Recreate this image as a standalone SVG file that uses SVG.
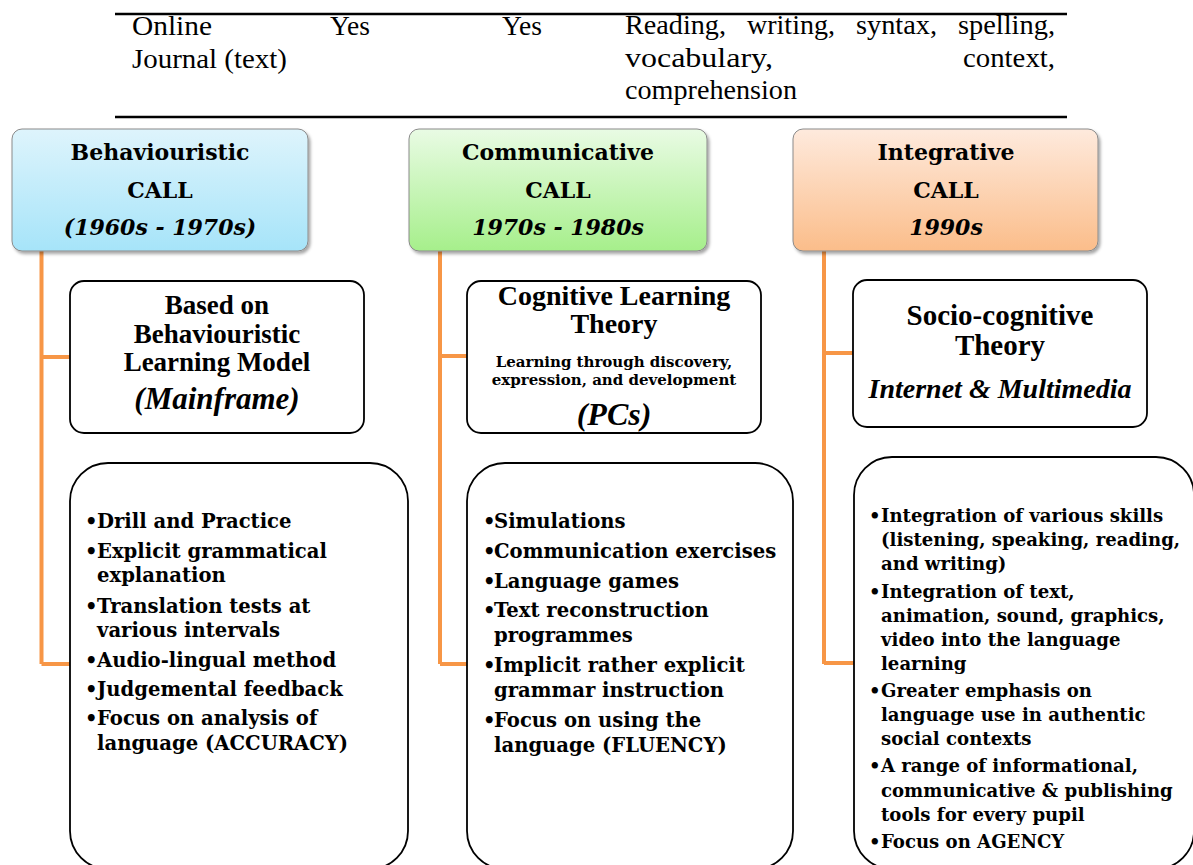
<svg xmlns="http://www.w3.org/2000/svg" width="1193" height="865" viewBox="0 0 1193 865">
  <defs>
    <linearGradient id="gBlue" x1="0" y1="0" x2="0" y2="1">
      <stop offset="0" stop-color="#def4fc"/>
      <stop offset="1" stop-color="#a6e4f9"/>
    </linearGradient>
    <linearGradient id="gGreen" x1="0" y1="0" x2="0" y2="1">
      <stop offset="0" stop-color="#e9fbe4"/>
      <stop offset="1" stop-color="#a6ef8b"/>
    </linearGradient>
    <linearGradient id="gOrange" x1="0" y1="0" x2="0" y2="1">
      <stop offset="0" stop-color="#feeadd"/>
      <stop offset="1" stop-color="#fbbd8a"/>
    </linearGradient>
    <filter id="shadow" x="-5%" y="-5%" width="115%" height="120%">
      <feDropShadow dx="2" dy="2.5" stdDeviation="1.5" flood-color="#000" flood-opacity="0.35"/>
    </filter>
    <style>
      .tbl { font-family: "Liberation Serif", "Times New Roman", serif; font-size: 27px; fill: #000; }
      .rule { stroke: #000; stroke-width: 2.5; }
      .head { stroke: #8a8a8a; stroke-width: 1; filter: url(#shadow); }
      .hd { font-family: "DejaVu Serif", serif; font-weight: bold; font-size: 22px; fill: #000; text-anchor: middle; }
      .hdi { font-style: italic; }
      .sub { fill: #fff; stroke: #000; stroke-width: 1.8; }
      .th { font-family: "Liberation Serif", "Times New Roman", serif; font-weight: bold; fill: #000; text-anchor: middle; }
      .thi { font-style: italic; }
      .small { font-family: "DejaVu Serif", serif; font-weight: bold; font-size: 15px; fill: #000; text-anchor: middle; }
      .list { fill: #fff; stroke: #000; stroke-width: 1.8; }
      .li { font-family: "DejaVu Serif", serif; font-weight: bold; font-size: 19.6px; fill: #000; }
      .li3 { font-family: "DejaVu Serif", serif; font-weight: bold; font-size: 18.1px; fill: #000; }
      .link { fill: none; stroke: #f79646; stroke-width: 4; }
    </style>
  </defs>

  <!-- table row above the chart -->
  <g id="table-row">
    <line class="rule" x1="115" y1="14" x2="1067" y2="14"/>
    <line class="rule" x1="115" y1="117" x2="1067" y2="117"/>
    <text class="tbl" x="132" y="35" textLength="80" lengthAdjust="spacingAndGlyphs">Online</text>
    <text class="tbl" x="132" y="68" textLength="155" lengthAdjust="spacingAndGlyphs">Journal (text)</text>
    <text class="tbl" x="330" y="35" textLength="40" lengthAdjust="spacingAndGlyphs">Yes</text>
    <text class="tbl" x="502" y="35" textLength="40" lengthAdjust="spacingAndGlyphs">Yes</text>
    <!-- justified first line: words placed one by one -->
    <text class="tbl" x="625" y="34" textLength="101" lengthAdjust="spacingAndGlyphs">Reading,</text>
    <text class="tbl" x="747" y="34" textLength="88" lengthAdjust="spacingAndGlyphs">writing,</text>
    <text class="tbl" x="856" y="34" textLength="81" lengthAdjust="spacingAndGlyphs">syntax,</text>
    <text class="tbl" x="958" y="34" textLength="97" lengthAdjust="spacingAndGlyphs">spelling,</text>
    <text class="tbl" x="625" y="67" textLength="148" lengthAdjust="spacingAndGlyphs">vocabulary,</text>
    <text class="tbl" x="963" y="67" textLength="92" lengthAdjust="spacingAndGlyphs">context,</text>
    <text class="tbl" x="625" y="99" textLength="172" lengthAdjust="spacingAndGlyphs">comprehension</text>
  </g>

  <!-- connectors -->
  <g id="connectors">
    <path class="link" d="M41.5 251 V664 M41.5 357 H70 M41.5 664 H70"/>
    <path class="link" d="M440 251 V664 M440 356 H467 M440 664 H467"/>
    <path class="link" d="M824 251 V664 M824 353 H853 M824 663 H854"/>
  </g>

  <!-- period headers -->
  <g id="behaviouristic">
    <rect class="head" x="12" y="129" width="296" height="122" rx="10" fill="url(#gBlue)"/>
    <text class="hd" x="160" y="160">Behaviouristic</text>
    <text class="hd" x="160" y="198">CALL</text>
    <text class="hd hdi" x="160" y="235">(1960s - 1970s)</text>
  </g>
  <g id="communicative">
    <rect class="head" x="409" y="129" width="298" height="122" rx="10" fill="url(#gGreen)"/>
    <text class="hd" x="558" y="160">Communicative</text>
    <text class="hd" x="558" y="198">CALL</text>
    <text class="hd hdi" x="558" y="235">1970s - 1980s</text>
  </g>
  <g id="integrative">
    <rect class="head" x="793" y="129" width="305" height="122" rx="10" fill="url(#gOrange)"/>
    <text class="hd" x="946" y="160">Integrative</text>
    <text class="hd" x="946" y="198">CALL</text>
    <text class="hd hdi" x="946" y="235">1990s</text>
  </g>

  <!-- theory boxes -->
  <g id="theory-behaviouristic">
    <rect class="sub" x="70" y="281" width="294" height="152" rx="14"/>
    <text class="th" x="217" y="314" font-size="27">Based on</text>
    <text class="th" x="217" y="343" font-size="27">Behaviouristic</text>
    <text class="th" x="217" y="371" font-size="27">Learning Model</text>
    <text class="th thi" x="217" y="409" font-size="31">(Mainframe)</text>
  </g>
  <g id="theory-cognitive">
    <rect class="sub" x="467" y="281" width="294" height="152" rx="14"/>
    <text class="th" x="614" y="305" font-size="28">Cognitive Learning</text>
    <text class="th" x="614" y="333" font-size="28">Theory</text>
    <text class="small" x="614" y="367">Learning through discovery,</text>
    <text class="small" x="614" y="385">expression, and development</text>
    <text class="th thi" x="614" y="425" font-size="32">(PCs)</text>
  </g>
  <g id="theory-sociocognitive">
    <rect class="sub" x="853" y="280" width="294" height="147" rx="14"/>
    <text class="th" x="1000" y="325" font-size="29">Socio-cognitive</text>
    <text class="th" x="1000" y="355" font-size="29">Theory</text>
    <text class="th thi" x="1000" y="398" font-size="28">Internet &amp; Multimedia</text>
  </g>

  <!-- feature lists -->
  <g id="features-behaviouristic">
    <rect class="list" x="70" y="463" width="338" height="406" rx="38"/>
    <g class="li">
      <text x="85" y="528">•</text><text x="97" y="528">Drill and Practice</text>
      <text x="85" y="558">•</text><text x="97" y="558">Explicit grammatical</text>
      <text x="97" y="582">explanation</text>
      <text x="85" y="613">•</text><text x="97" y="613">Translation tests at</text>
      <text x="97" y="637">various intervals</text>
      <text x="85" y="667">•</text><text x="97" y="667">Audio-lingual method</text>
      <text x="85" y="696">•</text><text x="97" y="696">Judgemental feedback</text>
      <text x="85" y="725">•</text><text x="97" y="725">Focus on analysis of</text>
      <text x="97" y="750">language (ACCURACY)</text>
    </g>
  </g>
  <g id="features-communicative">
    <rect class="list" x="467" y="463" width="326" height="406" rx="38"/>
    <g class="li">
      <text x="483" y="528">•</text><text x="494" y="528">Simulations</text>
      <text x="483" y="558">•</text><text x="494" y="558">Communication exercises</text>
      <text x="483" y="588">•</text><text x="494" y="588">Language games</text>
      <text x="483" y="617">•</text><text x="494" y="617">Text reconstruction</text>
      <text x="494" y="642">programmes</text>
      <text x="483" y="672">•</text><text x="494" y="672">Implicit rather explicit</text>
      <text x="494" y="697">grammar instruction</text>
      <text x="483" y="727">•</text><text x="494" y="727">Focus on using the</text>
      <text x="494" y="752">language (FLUENCY)</text>
    </g>
  </g>
  <g id="features-integrative">
    <rect class="list" x="854" y="457" width="340" height="412" rx="38"/>
    <g class="li3">
      <text x="869" y="522">•</text><text x="881" y="522">Integration of various skills</text>
      <text x="881" y="546">(listening, speaking, reading,</text>
      <text x="881" y="570">and writing)</text>
      <text x="869" y="598">•</text><text x="881" y="598">Integration of text,</text>
      <text x="881" y="622">animation, sound, graphics,</text>
      <text x="881" y="646">video into the language</text>
      <text x="881" y="670">learning</text>
      <text x="869" y="697">•</text><text x="881" y="697">Greater emphasis on</text>
      <text x="881" y="721">language use in authentic</text>
      <text x="881" y="745">social contexts</text>
      <text x="869" y="772">•</text><text x="881" y="772">A range of informational,</text>
      <text x="881" y="797">communicative &amp; publishing</text>
      <text x="881" y="821">tools for every pupil</text>
      <text x="869" y="848">•</text><text x="881" y="848">Focus on AGENCY</text>
    </g>
  </g>
</svg>
